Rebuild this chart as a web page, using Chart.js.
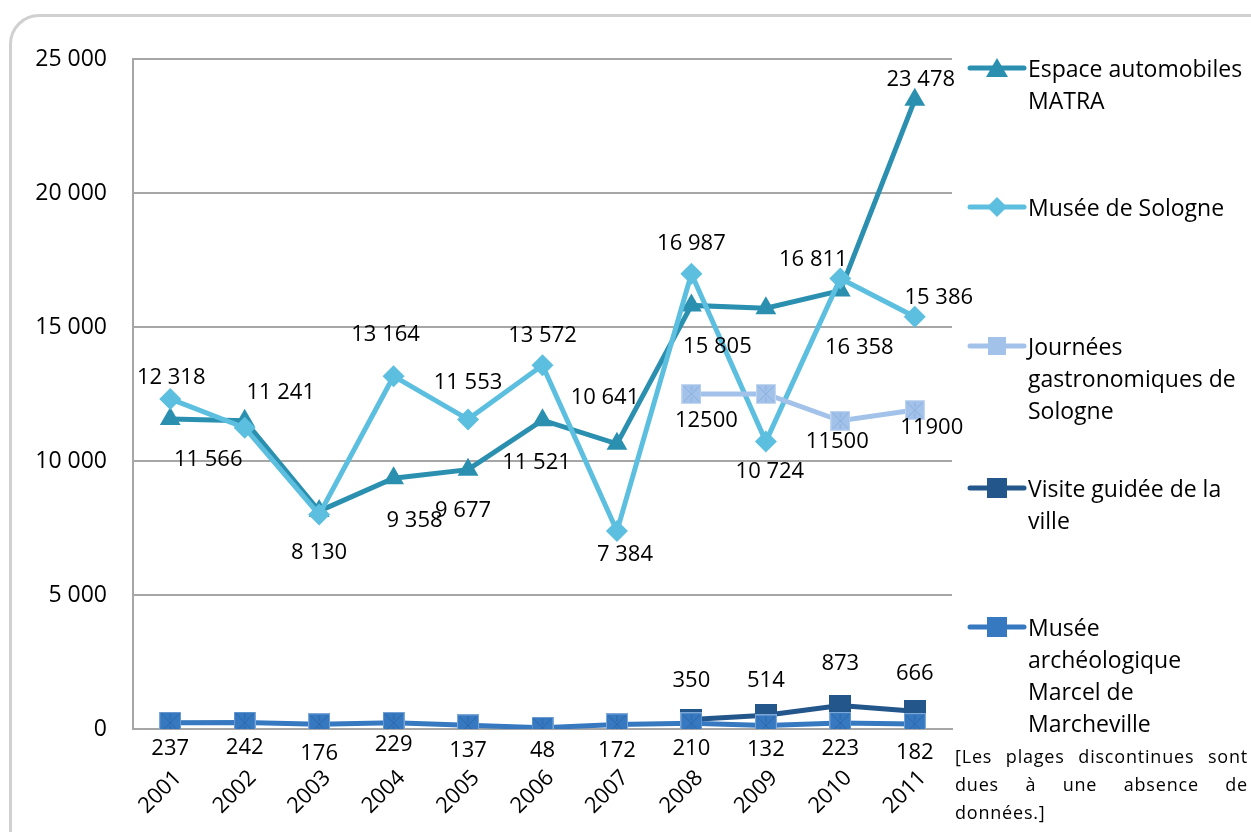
<!DOCTYPE html>
<html>
<head>
<meta charset="utf-8">
<script src="https://cdn.jsdelivr.net/npm/chart.js@4.4.1/dist/chart.umd.min.js"></script>
<style>
  body { margin: 0; background: #fff; font-family: "Open Sans", sans-serif; }
  #wrap { position: relative; width: 1251px; height: 832px; overflow: hidden; }
  #frame { position: absolute; left: 9px; top: 14px; width: 1270px; height: 850px;
           border: 3px solid #d0d0d0; border-radius: 30px; }
  #chart { position: absolute; left: 0; top: 0; }
  .leg { position: absolute; left: 966px; }
  .leg svg { position: absolute; left: 0; }
  .leg span { position: absolute; left: 62px; white-space: nowrap; font-size: 23px; line-height: 32px; color: #000; }
  #note { position: absolute; left: 955px; top: 742px; width: 293px; font-size: 18px; line-height: 28px;
          letter-spacing: 0.8px; text-align: justify; text-align-last: left; color: #000; }
</style>
</head>
<body>
<div id="wrap">
  <div id="frame"></div>
  <canvas id="chart" width="1251" height="832"></canvas>
  <div id="legend"></div>
  <div id="note">[Les plages discontinues sont dues à une absence de données.]</div>
</div>
<script>
// Data
const years = ['2001', '2002', '2003', '2004', '2005', '2006', '2007', '2008', '2009', '2010', '2011'];
const matra = [11566, 11500, 8130, 9358, 9677, 11521, 10641, 15805, 15700, 16358, 23478];
const sologne = [12318, 11241, 8000, 13164, 11553, 13572, 7384, 16987, 10724, 16811, 15386];
const journees = [null, null, null, null, null, null, null, 12500, 12500, 11500, 11900];
const visite = [null, null, null, null, null, null, null, 350, 514, 873, 666];
const archeo = [237, 242, 176, 229, 137, 48, 172, 210, 132, 223, 182];
const yTicks = [0, 5000, 10000, 15000, 20000, 25000];

const seriesNames = ['Espace automobiles MATRA', 'Musée de Sologne', 'Journées gastronomiques de Sologne',
  'Visite guidée de la ville', 'Musée archéologique Marcel de Marcheville'];
// how the legend wraps each name
const legendLines = [
  ['Espace automobiles', 'MATRA'],
  ['Musée de Sologne'],
  ['Journées', 'gastronomiques de', 'Sologne'],
  ['Visite guidée de la', 'ville'],
  ['Musée', 'archéologique', 'Marcel de', 'Marcheville']
];
const colors = ['#2b90b0', '#5cbfdf', '#a3c2ea', '#23568a', '#3679c0'];

// Label placement next to each point [dx, dy], null = no label
const labelOffsets = [
  [[38, 41], null, [0, 42], [21, 43], [-5, 41], [-6, 42], [-12, -46], [26, 41], null, [19, 57], [6, -20]],
  [[1, -21], [36, -35], null, [-8, -41], [0, -37], [0, -30], [8, 24], [0, -30], [4, 30], [-27, -19], [24, -19]],
  [null, null, null, null, null, null, null, [15, 27], null, [-3, 21], [17, 18]],
  [null, null, null, null, null, null, null, [0, -39], [0, -34], [0, -42], [0, -37]],
  [[0, 26], [0, 25], [0, 29], [0, 22], [0, 25], [0, 23], [0, 26], [0, 25], [0, 24], [0, 26], [0, 29]]
];

function fmt(v) { return String(v).replace(/\B(?=(\d{3})+(?!\d))/g, ' '); }

// square marker with a light cross, like the spreadsheet markers
function squareImg(size, fill, cross) {
  const c = document.createElement('canvas');
  c.width = size; c.height = size;
  const g = c.getContext('2d');
  g.fillStyle = fill;
  g.fillRect(0, 0, size, size);
  if (cross) {
    g.strokeStyle = cross;
    g.lineWidth = 1;
    g.beginPath();
    g.moveTo(2, 2); g.lineTo(size - 2, size - 2);
    g.moveTo(size - 2, 2); g.lineTo(2, size - 2);
    g.moveTo(size / 2, 2); g.lineTo(size / 2, size / 2 - 3);
    g.moveTo(size / 2, size - 2); g.lineTo(size / 2, size / 2 + 3);
    g.stroke();
    g.strokeStyle = 'rgba(255,255,255,0.35)';
    g.strokeRect(0.5, 0.5, size - 1, size - 1);
  }
  return c;
}

const pointLabels = {
  id: 'pointLabels',
  afterDatasetsDraw(chart, args, opts) {
    const ctx = chart.ctx;
    ctx.save();
    ctx.font = '22px "Open Sans"';
    ctx.fillStyle = '#000';
    ctx.textAlign = 'center';
    ctx.textBaseline = 'middle';
    chart.data.datasets.forEach((ds, i) => {
      const offs = opts.offsets[i];
      chart.getDatasetMeta(i).data.forEach((pt, j) => {
        const v = ds.data[j];
        if (v == null || !offs[j]) return;
        const txt = ds.rawLabel ? String(v) : fmt(v);
        ctx.fillText(txt, pt.x + offs[j][0], pt.y + offs[j][1]);
      });
    });
    ctx.restore();
  }
};

const base = { borderWidth: 5, tension: 0, fill: false };

new Chart(document.getElementById('chart'), {
  type: 'line',
  data: {
    labels: years,
    datasets: [
      Object.assign({}, base, { label: seriesNames[0], data: matra, borderColor: colors[0], backgroundColor: colors[0],
        pointStyle: 'triangle', pointRadius: 12, pointBorderWidth: 0, order: 5 }),
      Object.assign({}, base, { label: seriesNames[1], data: sologne, borderColor: colors[1], backgroundColor: colors[1],
        pointStyle: 'rectRot', pointRadius: 11, pointBorderWidth: 0, order: 4 }),
      Object.assign({}, base, { label: seriesNames[2], data: journees, borderColor: colors[2], backgroundColor: colors[2],
        pointStyle: squareImg(20, colors[2], '#8aaede'), rawLabel: true, order: 3 }),
      Object.assign({}, base, { label: seriesNames[3], data: visite, borderColor: colors[3], backgroundColor: colors[3],
        pointStyle: squareImg(22, colors[3], null), order: 2 }),
      Object.assign({}, base, { label: seriesNames[4], data: archeo, borderColor: colors[4], backgroundColor: colors[4],
        pointStyle: squareImg(22, colors[4], '#2a66a8'), order: 1 })
    ]
  },
  options: {
    responsive: false,
    animation: false,
    layout: { padding: { top: 59, right: 299, bottom: 0, left: 0 } },
    plugins: {
      legend: { display: false },
      tooltip: { enabled: false },
      pointLabels: { offsets: labelOffsets }
    },
    scales: {
      x: {
        offset: true,
        grid: { display: false },
        border: { display: true, color: '#a6a6a6', width: 2 },
        ticks: { color: '#000', font: { family: 'Open Sans', size: 22 }, minRotation: 45, maxRotation: 45,
                 padding: 28, labelOffset: 8 },
        afterFit: (s) => { s.height = 103; }
      },
      y: {
        min: 0,
        max: 25000,
        afterBuildTicks: (s) => { s.ticks = yTicks.map(v => ({ value: v })); },
        grid: { color: '#a6a6a6', lineWidth: 2, drawTicks: false },
        border: { display: true, color: '#a6a6a6', width: 2 },
        ticks: { color: '#000', font: { family: 'Open Sans', size: 23 }, padding: 26, callback: (v) => fmt(v) },
        afterFit: (s) => { s.width = 133; }
      }
    }
  },
  plugins: [pointLabels]
});

// HTML legend on the right
const legendRows = [
  { y: 68, marker: 'triangle' },
  { y: 207, marker: 'diamond' },
  { y: 346, marker: 'squareLight' },
  { y: 488, marker: 'square' },
  { y: 627, marker: 'square' }
];
const legend = document.getElementById('legend');
legendRows.forEach((r, i) => {
  const c = colors[i];
  let m = '';
  if (r.marker === 'triangle') m = `<polygon points="31,0 42,19 20,19" fill="${c}"/>`;
  else if (r.marker === 'diamond') m = `<polygon points="31,0 41,10 31,20 21,10" fill="${c}"/>`;
  else if (r.marker === 'squareLight') m = `<rect x="22" y="1" width="18" height="18" fill="${c}"/>`;
  else m = `<rect x="21" y="0" width="20" height="20" fill="${c}"/>`;
  const div = document.createElement('div');
  div.className = 'leg';
  div.style.top = (r.y - 10) + 'px';
  div.innerHTML = `<svg width="62" height="20"><line x1="4" y1="10" x2="58" y2="10" stroke="${c}" stroke-width="5" stroke-linecap="round"/>${m}</svg>` +
    `<span style="top:-6px">${legendLines[i].join('<br>')}</span>`;
  legend.appendChild(div);
});
</script>
</body>
</html>
